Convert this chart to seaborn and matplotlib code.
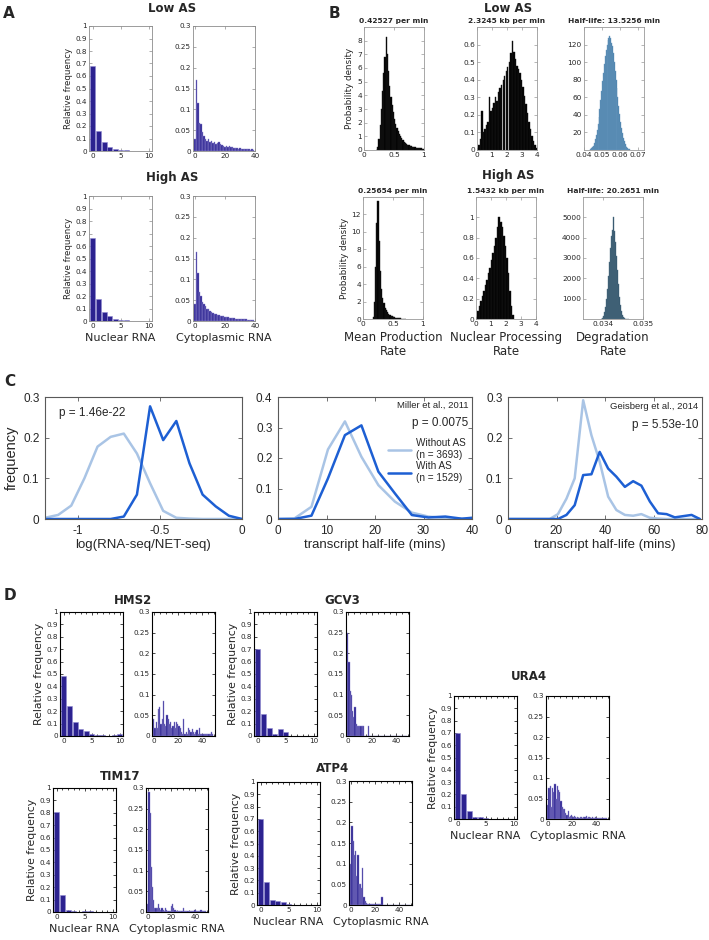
import numpy as np
import pandas as pd
import seaborn as sns
import matplotlib.pyplot as plt
from matplotlib.ticker import FuncFormatter, MultipleLocator

# ---------------- A: simulated RNA counts (relative frequency)
nuc_counts = np.arange(0, 11)
cyt_counts = np.arange(0, 40)
lowAS_nuc = [0.68, 0.16, 0.075, 0.035, 0.02, 0.01, 0.006, 0.004, 0.002, 0.001, 0.0]
highAS_nuc = [0.665, 0.175, 0.075, 0.04, 0.02, 0.012, 0.006, 0.004, 0.002, 0.001, 0.0]
lowAS_cyt = [0.03, 0.17, 0.115, 0.068, 0.065, 0.045, 0.035, 0.03, 0.025, 0.028,
             0.022, 0.025, 0.02, 0.022, 0.018, 0.02, 0.022, 0.018, 0.015, 0.012,
             0.01, 0.012, 0.01, 0.012, 0.009, 0.01, 0.008, 0.007, 0.008, 0.006,
             0.007, 0.005, 0.006, 0.004, 0.005, 0.004, 0.004, 0.003, 0.004, 0.003]
highAS_cyt = [0.04, 0.165, 0.115, 0.07, 0.06, 0.045, 0.04, 0.035, 0.03, 0.03,
              0.025, 0.022, 0.02, 0.018, 0.016, 0.015, 0.014, 0.012, 0.012, 0.011,
              0.01, 0.009, 0.01, 0.008, 0.008, 0.007, 0.007, 0.006, 0.006, 0.005,
              0.005, 0.005, 0.004, 0.004, 0.005, 0.003, 0.003, 0.003, 0.002, 0.002]

# ---------------- B: posterior parameter distributions (probability density)
lowMP_x = np.linspace(0.21, 0.99, 40)
lowMP = [0, 0.2, 0.8, 1.8, 3.0, 4.3, 5.6, 6.8, 8.3, 7.0,
         5.8, 4.7, 3.9, 3.3, 2.8, 2.3, 1.9, 1.6, 1.4, 1.2,
         1.0, 0.85, 0.7, 0.6, 0.5, 0.45, 0.4, 0.35, 0.3, 0.28,
         0.25, 0.22, 0.2, 0.18, 0.16, 0.14, 0.12, 0.11, 0.1, 0.09]
lowNP_x = np.linspace(0.05, 3.95, 40)
lowNP = [0.01, 0.03, 0.06, 0.22, 0.1, 0.12, 0.14, 0.16, 0.3, 0.22,
         0.24, 0.27, 0.3, 0.28, 0.33, 0.35, 0.37, 0.4, 0.42, 0.45,
         0.47, 0.5, 0.55, 0.62, 0.56, 0.52, 0.48, 0.46, 0.44, 0.4,
         0.36, 0.31, 0.26, 0.21, 0.16, 0.12, 0.08, 0.05, 0.03, 0.01]
lowDeg_x = np.linspace(0.0438, 0.0653, 44)
lowDeg = [1, 2, 3, 5, 8, 12, 17, 23, 30, 38,
          47, 57, 67, 78, 88, 98, 107, 114, 120, 125,
          128, 130, 127, 122, 118, 110, 100, 90, 80, 70,
          60, 50, 41, 32, 25, 19, 14, 10, 7, 5,
          3, 2, 1, 1]
highMP_x = np.linspace(0.17, 0.71, 28)
highMP = [0.2, 2, 6, 11, 13.5, 9, 5.5, 3.5, 2.4, 1.8,
          1.3, 1.0, 0.8, 0.6, 0.45, 0.35, 0.3, 0.25, 0.2, 0.15,
          0.12, 0.1, 0.08, 0.06, 0.05, 0.04, 0.03, 0.02]
highNP_x = np.linspace(0.05, 2.45, 25)
highNP = [0.02, 0.08, 0.13, 0.18, 0.23, 0.28, 0.33, 0.38, 0.45, 0.5,
          0.58, 0.65, 0.72, 0.8, 0.9, 1.0, 0.95, 0.9, 0.82, 0.72,
          0.6, 0.45, 0.28, 0.13, 0.04]
highDeg_x = np.linspace(0.03396, 0.034635, 28)
highDeg = [20, 60, 150, 320, 600, 1000, 1500, 2100, 2800, 3500,
           4100, 4400, 5000, 4350, 3800, 3100, 2400, 1700, 1100, 700,
           400, 220, 110, 50, 20, 10, 5, 0]

# ---------------- C: frequency curves, without / with AS
c1_x = [-1.2, -1.12, -1.04, -0.96, -0.88, -0.8, -0.72, -0.64, -0.56, -0.48, -0.4, -0.32, -0.24, -0.16, -0.08, 0.0]
c1_without = [0.003, 0.01, 0.033, 0.1, 0.178, 0.202, 0.21, 0.161, 0.088, 0.02, 0.003, 0.001, 0, 0, 0, 0]
c1_with = [0, 0, 0, 0, 0, 0, 0.006, 0.06, 0.277, 0.194, 0.241, 0.137, 0.06, 0.031, 0.008, 0]
c2_x = [0, 3.4, 6.9, 10.3, 13.8, 17.2, 20.7, 24.1, 27.6, 31.0, 34.5, 37.9, 40]
c2_without = [0, 0.002, 0.04, 0.228, 0.32, 0.204, 0.111, 0.057, 0.021, 0.008, 0.003, 0.001, 0]
c2_with = [0, 0, 0.011, 0.133, 0.275, 0.307, 0.155, 0.084, 0.013, 0.005, 0.008, 0.001, 0.004]
c3_x = [0, 3.4, 6.9, 10.3, 13.8, 17.2, 20.6, 24.1, 27.5, 31.0, 34.4, 37.8,
        41.3, 44.7, 48.2, 51.6, 55.0, 58.5, 61.9, 65.4, 68.8, 72.2, 75.7, 79.1]
c3_without = [0, 0, 0, 0, 0, 0, 0.012, 0.05, 0.1, 0.292, 0.206, 0.141,
              0.055, 0.022, 0.01, 0.008, 0.012, 0.003, 0.001, 0, 0, 0, 0, 0]
c3_with = [0, 0, 0, 0, 0, 0, 0, 0.01, 0.034, 0.108, 0.11, 0.165,
           0.124, 0.104, 0.079, 0.093, 0.082, 0.043, 0.014, 0.012, 0.004, 0.007, 0.01, 0]

# ---------------- D: per-gene RNA counts
gene_cyt_counts = np.arange(0, 50)
HMS2_nuc = [0.48, 0.245, 0.115, 0.055, 0.04, 0.02, 0.005, 0.005, 0.003, 0.005, 0.015]
HMS2_cyt = [0.04, 0.02, 0.035, 0.02, 0.065, 0.07, 0.03, 0.04, 0.085, 0.03,
            0.025, 0.05, 0.04, 0.03, 0.035, 0.02, 0.025, 0.035, 0.02, 0.035,
            0.03, 0.025, 0.02, 0.01, 0.005, 0.04, 0.005, 0.01, 0.005, 0.02,
            0.015, 0.01, 0.018, 0.01, 0.005, 0.01, 0.015, 0.005, 0.02, 0.005,
            0.005, 0.005, 0.005, 0.005, 0.005, 0.005, 0.005, 0.005, 0.01, 0.005]
GCV3_nuc = [0.7, 0.175, 0.065, 0.015, 0.06, 0.03, 0.003, 0.002, 0.002, 0.002, 0.002]
GCV3_cyt = [0.25, 0.18, 0.11, 0.1, 0.06, 0.045, 0.07, 0.03, 0.025, 0.025,
            0.025, 0.025, 0.025, 0.025, 0.0, 0.0, 0.0, 0.025, 0.0, 0.0,
            0.0, 0.0, 0.0, 0.0, 0.0, 0.0, 0.0, 0.0, 0.0, 0.0,
            0.0, 0.0, 0.0, 0.0, 0.0, 0.0, 0.0, 0.0, 0.0, 0.0,
            0.0, 0.0, 0.0, 0.0, 0.0, 0.0, 0.0, 0.0, 0.0, 0.0]
URA4_nuc = [0.7, 0.2, 0.065, 0.015, 0.02, 0.005, 0.003, 0.002, 0.002, 0.002, 0.002]
URA4_cyt = [0.035, 0.075, 0.08, 0.03, 0.075, 0.065, 0.085, 0.05, 0.08, 0.07,
            0.065, 0.045, 0.03, 0.025, 0.025, 0.015, 0.01, 0.02, 0.005, 0.007,
            0.01, 0.005, 0.007, 0.005, 0.003, 0.005, 0.002, 0.006, 0.004, 0.003,
            0.005, 0.004, 0.007, 0.003, 0.004, 0.005, 0.002, 0.004, 0.002, 0.003,
            0.004, 0.002, 0.003, 0.002, 0.002, 0.003, 0.002, 0.002, 0.003, 0.002]
TIM17_nuc = [0.81, 0.135, 0.02, 0.005, 0.003, 0.01, 0.01, 0.003, 0.002, 0.002, 0.002]
TIM17_cyt = [0.02, 0.29, 0.24, 0.11, 0.06, 0.03, 0.01, 0.01, 0.01, 0.02,
             0.01, 0.005, 0.01, 0.005, 0.003, 0.01, 0.005, 0.003, 0.003, 0.003,
             0.015, 0.02, 0.01, 0.005, 0.003, 0.003, 0.002, 0.002, 0.002, 0.003,
             0.01, 0.002, 0.002, 0.003, 0.002, 0.002, 0.002, 0.002, 0.002, 0.002,
             0.005, 0.003, 0.002, 0.003, 0.002, 0.005, 0.002, 0.002, 0.003, 0.002]
ATP4_nuc = [0.7, 0.19, 0.04, 0.03, 0.025, 0.005, 0.003, 0.002, 0.002, 0.002, 0.002]
ATP4_cyt = [0.1, 0.19, 0.155, 0.12, 0.13, 0.07, 0.12, 0.05, 0.05, 0.04,
            0.09, 0.02, 0.01, 0.005, 0.003, 0.002, 0.003, 0.002, 0.002, 0.002,
            0.002, 0.002, 0.002, 0.002, 0.002, 0.002, 0.02, 0.0, 0.0, 0.0,
            0.0, 0.0, 0.0, 0.0, 0.0, 0.0, 0.0, 0.0, 0.0, 0.0,
            0.0, 0.0, 0.0, 0.0, 0.0, 0.0, 0.0, 0.0, 0.0, 0.0]

PURPLE, PURPLE_EDGE = '#2c2290', '#8f89d0'
LIGHT, DARK = '#a9c4e5', '#1d5fd3'

W, H = 709, 940
sns.set_style('ticks')
plt.rcParams['font.family'] = ['DejaVu Sans']
fig = plt.figure(figsize=(W / 100, H / 100), dpi=100)
gfmt = FuncFormatter(lambda v, p: f'{v:g}')


def axes_px(x0, y0, x1, y1):
    return fig.add_axes([x0 / W, 1 - y1 / H, (x1 - x0) / W, (y1 - y0) / H])


def ftext(x, y, s, **kw):
    kw.setdefault('ha', 'center')
    kw.setdefault('va', 'center')
    fig.text(x / W, 1 - y / H, s, **kw)


def hist(ax, centers, heights, color, edge, lw=0.4, shrink=1):
    centers = np.asarray(centers, float)
    w = centers[1] - centers[0]
    edges = np.append(centers - w / 2, centers[-1] + w / 2)
    df = pd.DataFrame({'x': centers, 'w': np.asarray(heights, float)})
    sns.histplot(data=df, x='x', weights='w', bins=list(edges), color=color, edgecolor=edge,
                 linewidth=lw, alpha=1, shrink=shrink, ax=ax)
    ax.set_ylabel('')
    ax.set_xlabel('')


def matlab_axes(ax, frame, size, length=2.0, lw=0.6):
    for s in ax.spines.values():
        s.set_color(frame)
        s.set_linewidth(lw)
    ax.tick_params(direction='in', top=True, right=True, length=length, width=0.5,
                   color=frame, labelsize=size, labelcolor='0.15', pad=1.5)
    ax.xaxis.set_major_formatter(gfmt)
    ax.yaxis.set_major_formatter(gfmt)


def count_pair(nbox, cbox, nuc, cyt, cyt_x, cyt_max, frame, ylab_size, xlab, minor):
    an = axes_px(*nbox)
    hist(an, nuc_counts, nuc, PURPLE, PURPLE_EDGE, shrink=0.9)
    an.set_xlim(-0.7, 10.6)
    an.set_ylim(0, 1)
    an.set_xticks([0, 5, 10])
    an.set_yticks(np.arange(0, 1.01, 0.1))
    matlab_axes(an, frame, 5.2, lw=0.8 if minor else 0.6)
    an.set_ylabel('Relative frequency', fontsize=ylab_size, labelpad=2)
    ac = axes_px(*cbox)
    hist(ac, cyt_x, cyt, PURPLE, PURPLE_EDGE, lw=0.3)
    ac.set_xlim(-1.5, cyt_max)
    ac.set_ylim(0, 0.3)
    ac.set_xticks([0, 20, 40])
    ac.set_yticks(np.arange(0, 0.301, 0.05))
    matlab_axes(ac, frame, 5.2, lw=0.8 if minor else 0.6)
    if minor:
        an.xaxis.set_minor_locator(MultipleLocator(1))
        ac.xaxis.set_minor_locator(MultipleLocator(5))
        for a in (an, ac):
            a.tick_params(which='minor', direction='in', top=True, bottom=True,
                          length=1.5, width=0.5, color=frame)
    for a, lab in ((an, 'Nuclear RNA'), (ac, 'Cytoplasmic RNA')):
        a.set_xlabel(lab if xlab else '', fontsize=8, labelpad=3)


# ---------------- panel A
ftext(9, 14, 'A', fontsize=11, fontweight='bold')
ftext(172, 9, 'Low AS', fontsize=8.5, fontweight='bold')
ftext(172, 178, 'High AS', fontsize=8.5, fontweight='bold')
count_pair((89, 26, 152, 151), (193, 26, 255, 151), lowAS_nuc, lowAS_cyt, cyt_counts, 40,
           '0.55', 6.2, False, False)
count_pair((89, 196, 152, 321), (193, 196, 255, 321), highAS_nuc, highAS_cyt, cyt_counts, 40,
           '0.55', 6.2, True, False)

# ---------------- panel B
ftext(334, 13, 'B', fontsize=11, fontweight='bold')
ftext(508, 8, 'Low AS', fontsize=8.5, fontweight='bold')
ftext(508, 176, 'High AS', fontsize=8.5, fontweight='bold')
b_rows = [
    (27, 150, 21, [
        (364, lowMP_x, lowMP, 'black', '0.1', (0, 1), [0, 0.5, 1], (0, 9), np.arange(0, 8.1, 1), '0.42527 per min'),
        (477, lowNP_x, lowNP, 'black', '0.1', (0, 4), [0, 1, 2, 3, 4], (0, 0.7), np.arange(0, 0.61, 0.1), '2.3245 kb per min'),
        (584, lowDeg_x, lowDeg, '#3f78a4', '#6f9dc2', (0.04, 0.0733), [0.04, 0.05, 0.06, 0.07], (0, 140), np.arange(20, 121, 20), 'Half-life: 13.5256 min'),
    ]),
    (197, 319, 190, [
        (363, highMP_x, highMP, 'black', '0.1', (0, 1), [0, 0.5, 1], (0, 14), np.arange(0, 12.1, 2), '0.25654 per min'),
        (476, highNP_x, highNP, 'black', '0.1', (0, 4), [0, 1, 2, 3, 4], (0, 1.2), np.arange(0, 1.01, 0.2), '1.5432 kb per min'),
        (583, highDeg_x, highDeg, '#274a60', '#557489', (0.0335, 0.035), [0.034, 0.035], (0, 6000), np.arange(1000, 5001, 1000), 'Half-life: 20.2651 min'),
    ]),
]
b_xlabels = ['Mean Production\nRate', 'Nuclear Processing\nRate', 'Degradation\nRate']
for r, (y0, y1, ty, cells) in enumerate(b_rows):
    for c, (x0, cx, vals, fc, ec, xl, xt, yl, yt, title) in enumerate(cells):
        ax = axes_px(x0, y0, x0 + 60, y1)
        hist(ax, cx, vals, fc, ec, lw=0.3)
        ax.set_xlim(*xl)
        ax.set_ylim(*yl)
        ax.set_xticks(xt)
        ax.set_yticks(yt)
        matlab_axes(ax, '0.6', 5.3)
        ax.set_title(title, fontsize=5.4, fontweight='bold', pad=3)
        if c == 0:
            ax.set_ylabel('Probability density', fontsize=6.3, labelpad=2)
        ax.set_xlabel(b_xlabels[c] if r == 1 else '', fontsize=8.5, labelpad=3,
                      linespacing=1.1)

# ---------------- panel C
ftext(10, 382, 'C', fontsize=11, fontweight='bold')
c_specs = [
    ((45, 397, 242, 519), c1_x, c1_without, c1_with, (-1.2, 0), [-1, -0.5, 0], (0, 0.3), 'log(RNA-seq/NET-seq)'),
    ((278, 397, 472, 519), c2_x, c2_without, c2_with, (0, 40), [0, 10, 20, 30, 40], (0, 0.4), 'transcript half-life (mins)'),
    ((508, 397, 702, 519), c3_x, c3_without, c3_with, (0, 80), [0, 20, 40, 60, 80], (0, 0.3), 'transcript half-life (mins)'),
]
c_axes = []
for box, cx, wo, wi, xl, xt, yl, xlab in c_specs:
    ax = axes_px(*box)
    sns.lineplot(x=cx, y=wo, color=LIGHT, lw=1.8, ax=ax, label='Without AS\n(n = 3693)')
    sns.lineplot(x=cx, y=wi, color=DARK, lw=1.8, ax=ax, label='With AS\n(n = 1529)')
    ax.set_xlim(*xl)
    ax.set_ylim(*yl)
    ax.set_xticks(xt)
    ax.set_yticks(np.arange(0, yl[1] + 0.01, 0.1))
    for s in ax.spines.values():
        s.set_color('0.35')
        s.set_linewidth(0.8)
    ax.tick_params(direction='in', top=True, right=True, length=3, width=0.6,
                   color='0.35', labelsize=8.5, pad=4)
    ax.xaxis.set_major_formatter(gfmt)
    ax.yaxis.set_major_formatter(gfmt)
    for lab in ax.get_xticklabels() + ax.get_yticklabels():
        lab.set_family(['Liberation Sans'])
    ax.set_xlabel(xlab, fontsize=9.5, family=['Liberation Sans'], labelpad=2)
    ax.set_ylabel('')
    ax.get_legend().remove()
    c_axes.append(ax)

c_axes[0].set_ylabel('frequency', fontsize=10.5, family=['Liberation Sans'], labelpad=3)
c_axes[0].text(0.07, 0.87, 'p = 1.46e-22', transform=c_axes[0].transAxes,
               fontsize=8.5, family=['Liberation Sans'], va='center')
c_axes[1].text(0.98, 0.93, 'Miller et al., 2011', transform=c_axes[1].transAxes,
               fontsize=6.8, family=['Liberation Sans'], ha='right', va='center')
c_axes[1].text(0.98, 0.79, 'p = 0.0075', transform=c_axes[1].transAxes,
               fontsize=8.5, family=['Liberation Sans'], ha='right', va='center')
c_axes[1].legend(loc='upper right', bbox_to_anchor=(1.0, 0.71), frameon=False,
                 prop={'family': ['Liberation Sans'], 'size': 7.2}, handlelength=2.3,
                 labelspacing=0.15, borderaxespad=0.2, handletextpad=0.5)
c_axes[2].text(0.98, 0.92, 'Geisberg et al., 2014', transform=c_axes[2].transAxes,
               fontsize=6.8, family=['Liberation Sans'], ha='right', va='center')
c_axes[2].text(0.98, 0.77, 'p = 5.53e-10', transform=c_axes[2].transAxes,
               fontsize=8.5, family=['Liberation Sans'], ha='right', va='center')

# ---------------- panel D
ftext(10, 595, 'D', fontsize=11, fontweight='bold')
genes = [
    ('HMS2', HMS2_nuc, HMS2_cyt, (60, 612, 123, 736), (152, 612, 215, 736), (133, 601), False),
    ('GCV3', GCV3_nuc, GCV3_cyt, (254, 612, 317, 736), (346, 612, 409, 736), (342, 601), False),
    ('URA4', URA4_nuc, URA4_cyt, (454, 696, 517, 819), (546, 696, 609, 819), (529, 677), True),
    ('TIM17', TIM17_nuc, TIM17_cyt, (53, 788, 116, 912), (146, 788, 208, 912), (120, 777), True),
    ('ATP4', ATP4_nuc, ATP4_cyt, (257, 782, 320, 905), (349, 781, 412, 905), (333, 769), True),
]
for name, nuc, cyt, nbox, cbox, tpos, xlab in genes:
    ftext(*tpos, name, fontsize=8.5, fontweight='bold')
    count_pair(nbox, cbox, nuc, cyt, gene_cyt_counts, 51, 'black', 7.8, xlab, True)

fig.savefig('out.png', dpi=100)
